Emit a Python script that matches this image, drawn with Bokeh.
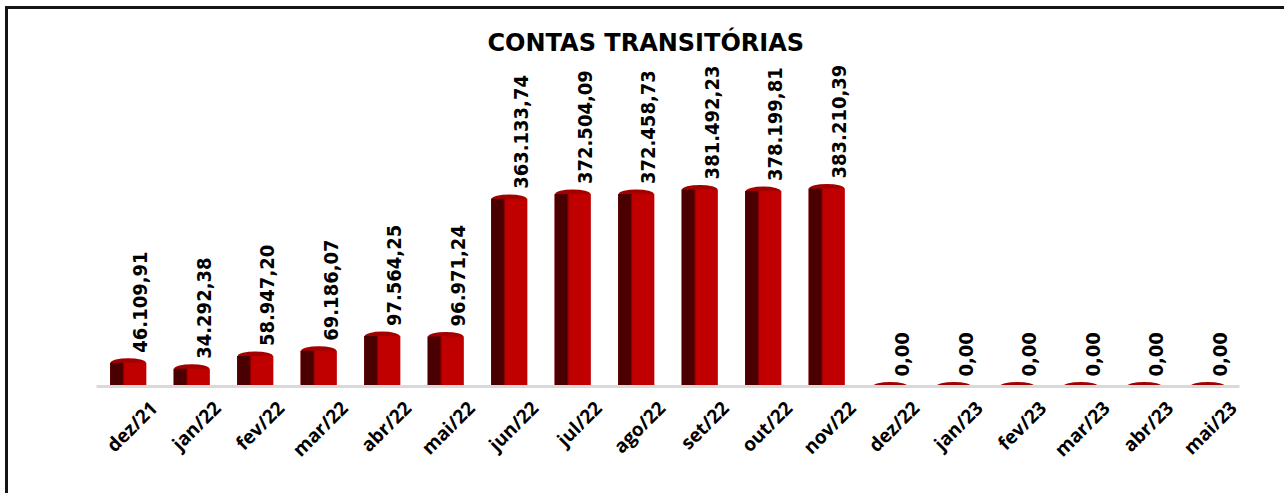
import math
from bokeh.plotting import figure
from bokeh.models import ColumnDataSource, Range1d, LinearAxis, FixedTicker
from bokeh.transform import dodge
from bokeh.core.properties import value
from bokeh.embed import file_html
from bokeh.resources import INLINE

months = ["dez/21", "jan/22", "fev/22", "mar/22", "abr/22", "mai/22", "jun/22", "jul/22",
          "ago/22", "set/22", "out/22", "nov/22", "dez/22", "jan/23", "fev/23", "mar/23",
          "abr/23", "mai/23"]
values = [46109.91, 34292.38, 58947.20, 69186.07, 97564.25, 96971.24, 363133.74, 372504.09,
          372458.73, 381492.23, 378199.81, 383210.39, 0.0, 0.0, 0.0, 0.0, 0.0, 0.0]
title_text = "CONTAS TRANSITÓRIAS"


def fmt_br(v):
    s = f"{v:,.2f}"
    return s.replace(",", "X").replace(".", ",").replace("X", ".")


idx = list(range(len(months)))
labels = [fmt_br(v) for v in values]
src = ColumnDataSource(dict(i=idx, m=months, v=values, lbl=labels))

n = len(months)
p = figure(x_range=Range1d(-0.5, n - 0.5), y_range=Range1d(0, 629000),
           width=1279, height=487, output_backend="svg", toolbar_location=None,
           min_border_left=88, min_border_right=48, min_border_top=52, min_border_bottom=110,
           title=title_text)
p.styles = {"border-left": "3px solid #151515", "border-top": "3px solid #151515",
            "margin-left": "5px", "margin-top": "6px"}

p.title.align = "left"
p.title.offset = 391
p.title.text_font = "DejaVu Sans"
p.title.text_font_style = "bold"
p.title.text_font_size = "24px"
p.title.text_color = "black"

BW = 0.57
# rounded cap / flat disc (the only visible part for zero values)
p.ellipse(x="i", y="v", width=BW * 0.97, height=9, height_units="screen", source=src,
          fill_color="#a30000", line_color=None)
# red body
p.vbar(x="i", top="v", width=BW, source=src, fill_color="#c00000", line_color=None)
# shading strip
p.vbar(x=dodge("i", -BW / 2 + 0.17), top="v", width=0.1, source=src,
       fill_color="#8a0000", line_color=None)
# dark left side
p.vbar(x=dodge("i", -BW / 2 + 0.1), top="v", width=0.2, source=src,
       fill_color="#4a0000", line_color=None)

p.text(x="i", y="v", text="lbl", source=src, angle=math.pi / 2, text_align="left",
       text_baseline="middle", x_offset=12, y_offset=-10,
       text_font=value("DejaVu Sans Condensed"), text_font_style="bold",
       text_font_size="20px", text_color="black")

p.xaxis.visible = False
p.yaxis.visible = False
p.xgrid.grid_line_color = None
p.ygrid.grid_line_color = None
p.outline_line_color = None

# category labels axis, shifted so that labels end to the right of each bar
p.extra_x_ranges = {"lbl": Range1d(-0.5 - 0.4, n - 0.5 - 0.4)}
ax = LinearAxis(x_range_name="lbl", ticker=FixedTicker(ticks=idx),
                major_label_overrides={i: m for i, m in zip(idx, months)})
ax.axis_line_color = "#d9d9d9"
ax.axis_line_width = 3
ax.major_tick_line_color = None
ax.minor_tick_line_color = None
ax.major_label_orientation = math.pi / 4
ax.major_label_text_font = "Open Sans"
ax.major_label_text_font_style = "bold"
ax.major_label_text_font_size = "19px"
ax.major_label_text_color = "black"
ax.major_label_standoff = 12
p.add_layout(ax, "below")

open("out.html", "w").write(file_html(p, INLINE))
